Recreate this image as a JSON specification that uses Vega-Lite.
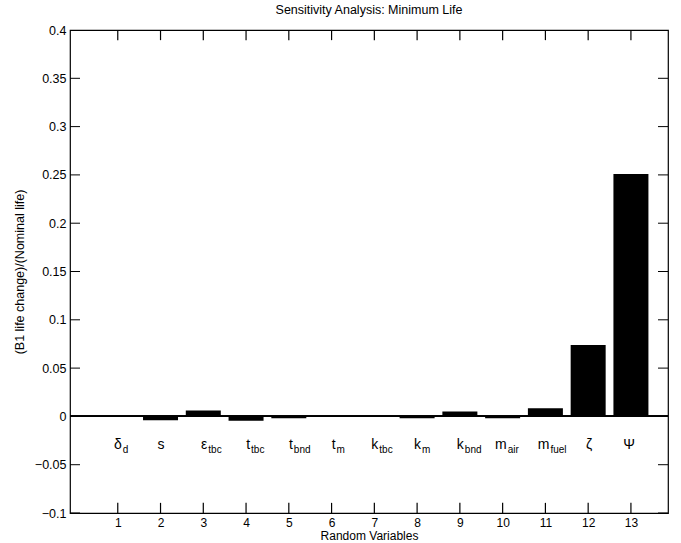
{
  "$schema": "https://vega.github.io/schema/vega-lite/v6.json",
  "width": 598,
  "height": 483,
  "autosize": {"type": "none"},
  "padding": {"left": 70, "top": 30, "right": 13, "bottom": 30},
  "background": "white",
  "title": {"text": "Sensitivity Analysis: Minimum Life", "fontSize": 12.5, "fontWeight": "normal", "font": "Liberation Sans", "offset": 8, "color": "black"},
  "config": {
    "view": {"stroke": "black", "strokeWidth": 1.2},
    "font": "Liberation Sans",
    "axis": {"grid": false, "domain": false, "ticks": false, "labelFont": "Liberation Sans", "titleFont": "Liberation Sans", "labelFontSize": 12.5, "titleFontSize": 12.5, "titleFontWeight": "normal", "labelColor": "black", "titleColor": "black"}
  },
  "datasets": {
    "bars": [
      {"i": 1, "v": -0.0005, "sym": "δ", "sub": "d"},
      {"i": 2, "v": -0.004, "sym": "s", "sub": ""},
      {"i": 3, "v": 0.006, "sym": "ε", "sub": "tbc"},
      {"i": 4, "v": -0.0045, "sym": "t", "sub": "tbc"},
      {"i": 5, "v": -0.002, "sym": "t", "sub": "bnd"},
      {"i": 6, "v": -0.0005, "sym": "t", "sub": "m"},
      {"i": 7, "v": -0.0003, "sym": "k", "sub": "tbc"},
      {"i": 8, "v": -0.002, "sym": "k", "sub": "m"},
      {"i": 9, "v": 0.005, "sym": "k", "sub": "bnd"},
      {"i": 10, "v": -0.002, "sym": "m", "sub": "air"},
      {"i": 11, "v": 0.0085, "sym": "m", "sub": "fuel"},
      {"i": 12, "v": 0.074, "sym": "ζ", "sub": ""},
      {"i": 13, "v": 0.251, "sym": "Ψ", "sub": ""}
    ],
    "yticks": [
      {"yt": -0.1}, {"yt": -0.05}, {"yt": 0}, {"yt": 0.05}, {"yt": 0.1}, {"yt": 0.15},
      {"yt": 0.2}, {"yt": 0.25}, {"yt": 0.3}, {"yt": 0.35}, {"yt": 0.4}
    ]
  },
  "data": {"name": "bars"},
  "resolve": {"axis": {"x": "independent", "y": "independent"}},
  "layer": [
    {
      "mark": {"type": "bar", "color": "black", "width": 35},
      "encoding": {
        "x": {"field": "i", "type": "quantitative", "scale": {"domain": [0, 13.75], "nice": false, "zero": false},
              "axis": {"values": [1,2,3,4,5,6,7,8,9,10,11,12,13], "title": "Random Variables", "labelPadding": 4, "titlePadding": 2, "labelFontSize": 12, "titleFontSize": 12, "labelFlush": false}},
        "y": {"field": "v", "type": "quantitative", "scale": {"domain": [-0.1, 0.4], "nice": false},
              "axis": {"values": [-0.1,-0.05,0,0.05,0.1,0.15,0.2,0.25,0.3,0.35,0.4], "format": "~g", "title": "(B1 life change)/(Nominal life)", "labelPadding": 4, "titlePadding": 8, "labelFlush": false}}
      }
    },
    {
      "mark": {"type": "rule", "color": "black", "strokeWidth": 1.2},
      "encoding": {"y": {"datum": 0, "axis": null}}
    },
    {
      "mark": {"type": "rule", "color": "black", "strokeWidth": 1.2},
      "encoding": {
        "x": {"field": "i", "type": "quantitative", "axis": null},
        "y": {"datum": -0.1, "axis": null},
        "y2": {"datum": -0.0895}
      }
    },
    {
      "mark": {"type": "rule", "color": "black", "strokeWidth": 1.2},
      "encoding": {
        "x": {"field": "i", "type": "quantitative", "axis": null},
        "y": {"datum": 0.4, "axis": null},
        "y2": {"datum": 0.3895}
      }
    },
    {
      "data": {"name": "yticks"},
      "mark": {"type": "tick", "orient": "horizontal", "size": 10, "thickness": 1, "color": "black", "clip": true, "opacity": 1},
      "encoding": {
        "y": {"field": "yt", "type": "quantitative", "axis": null},
        "x": {"datum": 0, "axis": null}
      }
    },
    {
      "data": {"name": "yticks"},
      "mark": {"type": "tick", "orient": "horizontal", "size": 10, "thickness": 1, "color": "black", "clip": true, "opacity": 1},
      "encoding": {
        "y": {"field": "yt", "type": "quantitative", "axis": null},
        "x": {"datum": 13.75, "axis": null}
      }
    },
    {
      "mark": {"type": "text", "fontSize": 14, "align": "right", "baseline": "middle", "dx": 4, "color": "black"},
      "encoding": {
        "x": {"field": "i", "type": "quantitative", "axis": null},
        "y": {"datum": -0.03, "axis": null},
        "text": {"field": "sym"}
      }
    },
    {
      "mark": {"type": "text", "fontSize": 10, "align": "left", "baseline": "middle", "dx": 5, "dy": 5, "color": "black"},
      "encoding": {
        "x": {"field": "i", "type": "quantitative", "axis": null},
        "y": {"datum": -0.03, "axis": null},
        "text": {"field": "sub"}
      }
    }
  ]
}
